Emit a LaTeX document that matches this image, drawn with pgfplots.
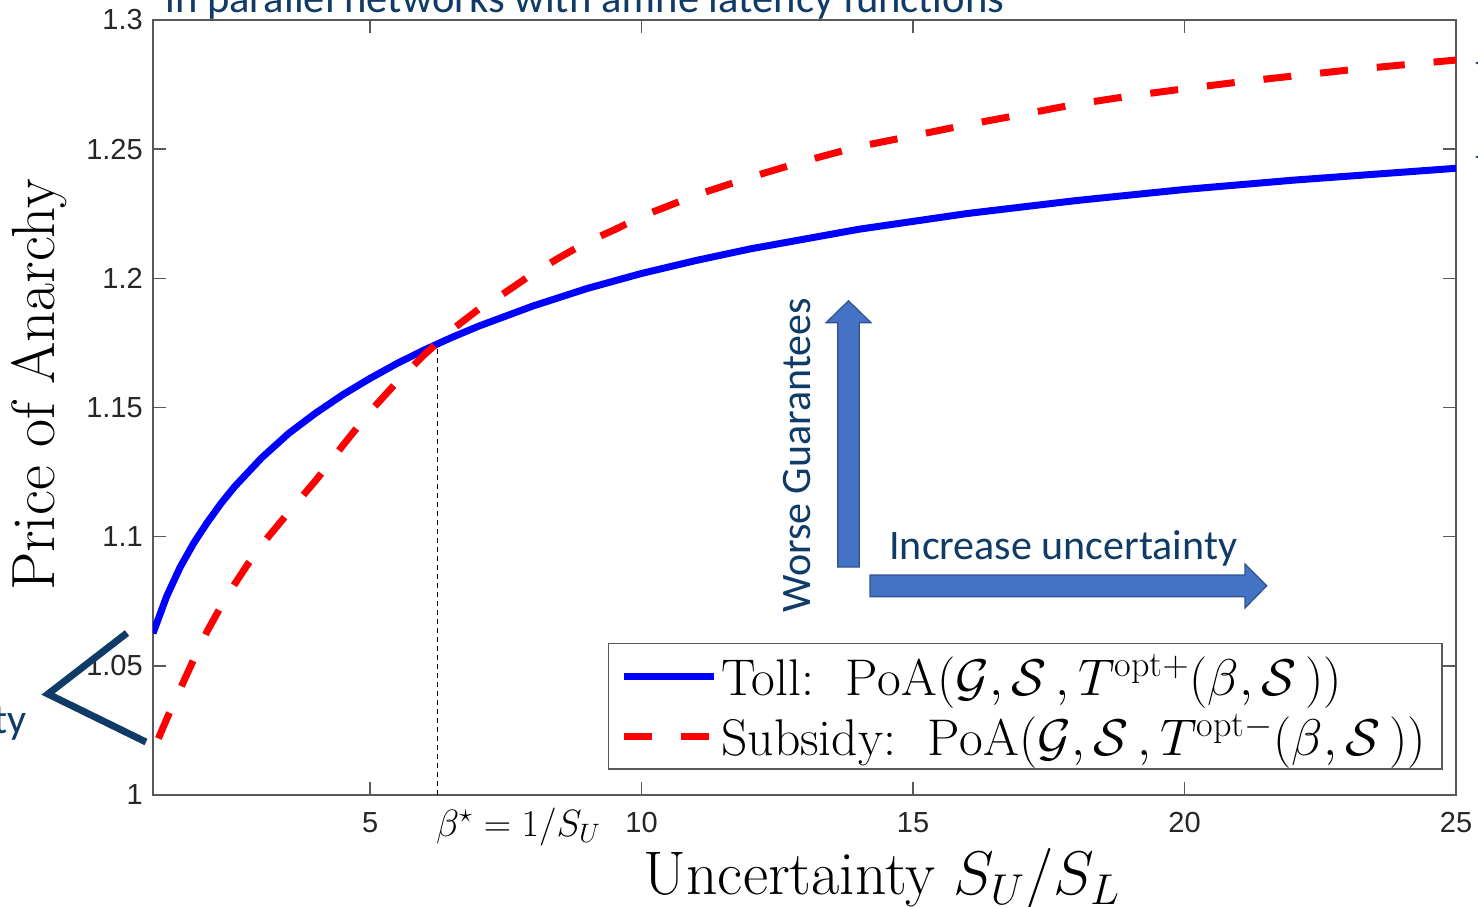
\RequirePackage{fix-cm}
\documentclass[border=0pt]{standalone}
\usepackage{fontspec}
\usepackage{pgfplots}
\pgfplotsset{compat=1.18}
\usetikzlibrary{arrows.meta}
\newfontfamily\arial{Liberation Sans}
\newfontfamily\calibri{Carlito}
\definecolor{navy}{HTML}{0F3B66}
\definecolor{arrowfill}{HTML}{4472C4}
\definecolor{arrowedge}{HTML}{2F528F}
\definecolor{axgray}{HTML}{262626}

% Toll curve
\pgfplotstableread{
x y
1 1.0626
1.25 1.0768
1.5 1.0882
1.75 1.0975
2 1.1055
2.25 1.1128
2.5 1.1193
3 1.1305
3.5 1.1400
4 1.1479
4.5 1.1550
5 1.1613
5.5 1.1671
6 1.1723
6.5 1.1771
7 1.1815
8 1.1893
9 1.1961
10 1.2019
11 1.2069
12 1.2114
14 1.2190
16 1.2251
18 1.2301
20 1.2344
22 1.2380
25 1.2426
}\tolldata

% Subsidy curve
\pgfplotstableread{
x y
1.1 1.0219
1.25 1.0293
1.5 1.0410
1.75 1.0525
2 1.0635
2.25 1.0729
2.5 1.0815
2.75 1.0895
3 1.0968
3.5 1.1095
4 1.1218
4.5 1.1354
5 1.1485
5.5 1.1600
6 1.1705
6.5 1.1800
7 1.1881
7.5 1.1947
8 1.2019
8.5 1.2082
9 1.2141
9.5 1.2188
10 1.2240
11 1.2322
12 1.2391
13 1.2454
14 1.2510
15 1.2552
16 1.2595
17 1.2634
18 1.2674
19 1.2706
20 1.2734
21 1.2760
22 1.2783
23 1.2806
24 1.2826
25 1.2845
}\subsidydata

\begin{document}
\begin{tikzpicture}
\useasboundingbox (0pt,0pt) rectangle (739pt,-453pt);
\begin{axis}[
    at={(76.5pt,-397.5pt)}, anchor=south west,
    scale only axis,
    width=651.5pt, height=387.5pt,
    xmin=1, xmax=25,
    ymin=1, ymax=1.3,
    xtick={5,10,15,20,25},
    ytick={1,1.05,1.1,1.15,1.2,1.25,1.3},
    tick align=inside,
    major tick length=6.5pt,
    axis line style={black!65, line width=0.75pt},
    tick style={black!65, line width=0.75pt},
    /pgf/number format/assume math mode=true,
    ticklabel style={font=\fontsize{14.5}{17}\arial, text=axgray},
    xticklabel style={yshift=-5pt},
    yticklabel style={xshift=-1.6pt},
    extra x ticks={6.232},
    extra x tick labels={$\beta^\star=1/S_U$},
    extra x tick style={major tick length=0pt,
        tick label style={font=\fontsize{19}{22}\selectfont, text=black, anchor=north west, xshift=-4pt, yshift=2pt}},
    xlabel={Uncertainty $S_U/S_L$},
    xlabel style={font=\fontsize{30.8}{36}\selectfont, at={(axis description cs:0.5595,-0.129)}, anchor=base},
    ylabel={Price of Anarchy},
    ylabel style={font=\fontsize{30.5}{36}\selectfont, at={(axis description cs:-0.0875,0.529)}, anchor=center},
    legend style={at={(0.990,0.0323)}, anchor=south east, draw=black!65, line width=0.75pt,
        font=\fontsize{25.8}{30}\selectfont, row sep=4pt, inner xsep=6pt, inner ysep=3.5pt},
    legend cell align=left,
    legend image code/.code={\draw[#1] (0pt,0pt) -- (45pt,0pt);},
]
\addplot[black, line width=0.5pt, dash pattern=on 2.5pt off 2pt, forget plot]
    coordinates {(6.232,1) (6.232,1.1748)};

\addplot[color={rgb,255:red,0;green,0;blue,255}, line width=3.5pt] table[x=x, y=y] {\tolldata};
\addlegendentry{Toll:\ \ $\mathrm{PoA}(\mathcal{G},\mathcal{S}\,,T^{\mathrm{opt}+}(\beta,\mathcal{S}\,))$}

\addplot[color={rgb,255:red,255;green,0;blue,0}, line width=3.5pt, dash pattern=on 14pt off 14.5pt] table[x=x, y=y] {\subsidydata};
\addlegendentry{Subsidy:\ \ $\mathrm{PoA}(\mathcal{G},\mathcal{S}\,,T^{\mathrm{opt}-}(\beta,\mathcal{S}\,))$}
\end{axis}

% annotations from the slide (1 px = 0.5 pt)
\begin{scope}[x=0.5pt, y=-0.5pt]
\node[anchor=base west, inner sep=0pt, font=\fontsize{21.3}{25}\calibri, text=navy] at (165,12)
    {in parallel networks with affine latency functions};
\node[anchor=base east, inner sep=0pt, font=\fontsize{21}{25}\calibri, text=navy] at (27,733) {ty};
\draw[navy, line width=3.5pt] (127,633) -- (48,694) -- (146,742);
% vertical block arrow
\draw[arrowedge, fill=arrowfill, line width=0.6pt]
    (837.7,567) -- (837.7,322.7) -- (826,322.7) -- (848.5,300.7) -- (871,322.7)
    -- (859.3,322.7) -- (859.3,567) -- cycle;
% horizontal block arrow
\draw[arrowedge, fill=arrowfill, line width=0.6pt]
    (870,575) -- (1245,575) -- (1245,564) -- (1266.7,585.8) -- (1245,608)
    -- (1245,596.7) -- (870,596.7) -- cycle;
\node[rotate=90, anchor=base west, inner sep=0pt, font=\fontsize{21}{25}\calibri, text=navy] at (810,613)
    {Worse Guarantees};
\node[anchor=base west, inner sep=0pt, font=\fontsize{21}{25}\calibri, text=navy] at (889,559)
    {Increase uncertainty};
\draw[navy, line width=1.5pt, -{Stealth[length=9pt, width=8pt]}] (1510,63) -- (1475,63);
\draw[navy, line width=1.5pt, -{Stealth[length=9pt, width=8pt]}] (1510,157) -- (1475,157);
\end{scope}
\end{tikzpicture}
\end{document}
